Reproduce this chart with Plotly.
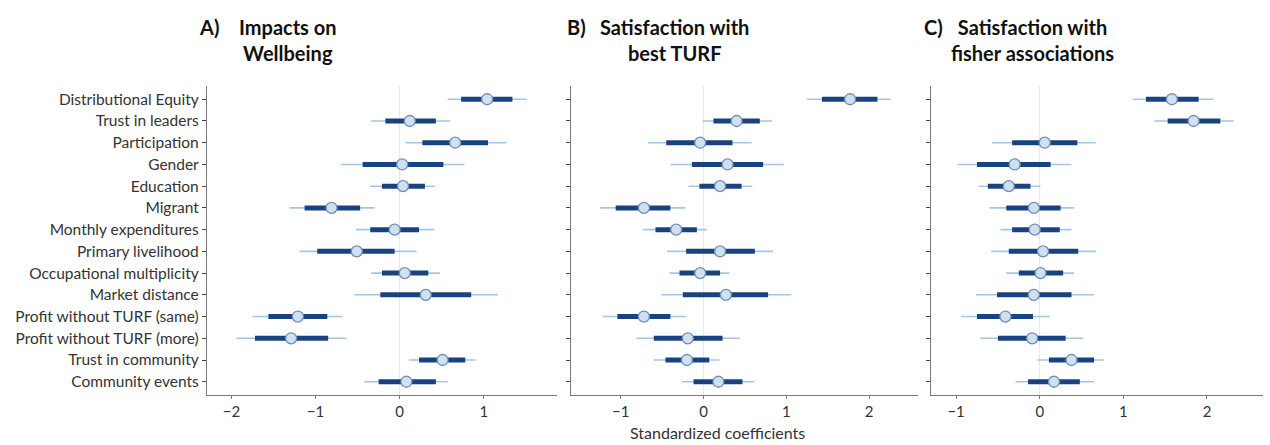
import plotly.graph_objects as go

categories = ["Distributional Equity", "Trust in leaders", "Participation", "Gender",
              "Education", "Migrant", "Monthly expenditures", "Primary livelihood",
              "Occupational multiplicity", "Market distance", "Profit without TURF (same)",
              "Profit without TURF (more)", "Trust in community", "Community events"]

# Panel A: Impacts on Wellbeing
a_est  = [1.04, 0.12, 0.66, 0.03, 0.04, -0.81, -0.06, -0.51, 0.06, 0.31, -1.21, -1.29, 0.51, 0.08]
a_lo50 = [0.73, -0.17, 0.27, -0.44, -0.21, -1.13, -0.35, -0.98, -0.21, -0.23, -1.56, -1.72, 0.23, -0.25]
a_hi50 = [1.34, 0.43, 1.05, 0.52, 0.30, -0.47, 0.23, -0.06, 0.34, 0.85, -0.86, -0.85, 0.78, 0.43]
a_lo95 = [0.57, -0.34, 0.07, -0.70, -0.35, -1.31, -0.52, -1.19, -0.34, -0.54, -1.75, -1.94, 0.11, -0.42]
a_hi95 = [1.51, 0.60, 1.27, 0.77, 0.42, -0.30, 0.41, 0.20, 0.48, 1.17, -0.68, -0.63, 0.90, 0.57]

# Panel B: Satisfaction with best TURF
b_est  = [1.77, 0.40, -0.04, 0.29, 0.20, -0.72, -0.33, 0.20, -0.04, 0.27, -0.72, -0.19, -0.20, 0.18]
b_lo50 = [1.43, 0.12, -0.45, -0.14, -0.05, -1.06, -0.58, -0.21, -0.29, -0.25, -1.04, -0.60, -0.46, -0.12]
b_hi50 = [2.10, 0.68, 0.35, 0.72, 0.46, -0.40, -0.08, 0.62, 0.20, 0.78, -0.40, 0.23, 0.07, 0.47]
b_lo95 = [1.25, -0.01, -0.67, -0.40, -0.18, -1.25, -0.73, -0.44, -0.41, -0.51, -1.22, -0.81, -0.60, -0.26]
b_hi95 = [2.26, 0.83, 0.58, 0.97, 0.59, -0.22, 0.04, 0.84, 0.31, 1.06, -0.21, 0.44, 0.19, 0.61]

# Panel C: Satisfaction with fisher associations
c_est  = [1.58, 1.84, 0.06, -0.30, -0.37, -0.07, -0.06, 0.04, 0.01, -0.07, -0.41, -0.09, 0.38, 0.17]
c_lo50 = [1.27, 1.53, -0.33, -0.75, -0.62, -0.40, -0.33, -0.37, -0.25, -0.51, -0.75, -0.50, 0.11, -0.14]
c_hi50 = [1.90, 2.16, 0.45, 0.13, -0.11, 0.25, 0.24, 0.46, 0.28, 0.38, -0.08, 0.31, 0.65, 0.48]
c_lo95 = [1.11, 1.37, -0.57, -0.98, -0.73, -0.60, -0.47, -0.58, -0.40, -0.76, -0.94, -0.71, -0.03, -0.29]
c_hi95 = [2.08, 2.32, 0.67, 0.38, 0.01, 0.41, 0.38, 0.67, 0.41, 0.65, 0.12, 0.52, 0.77, 0.65]

panel_letters = ["A)", "B)", "C)"]
panel_titles = ["Impacts on<br>Wellbeing", "Satisfaction with<br>best TURF", "Satisfaction with<br>fisher associations"]
x_tickvals = [[-2, -1, 0, 1], [-1, 0, 1, 2], [-1, 0, 1, 2]]
x_label = "Standardized coefficients"

panels = [
    (a_est, a_lo50, a_hi50, a_lo95, a_hi95),
    (b_est, b_lo50, b_hi50, b_lo95, b_hi95),
    (c_est, c_lo50, c_hi50, c_lo95, c_hi95),
]

W, H = 1270, 445
x_domains_px = [(207, 557), (571, 918), (931, 1263)]
x_ranges = [(-2.29, 1.87), (-1.60, 2.59), (-1.30, 2.67)]
y_top_px, y_bot_px = 86, 395
y_domain = [1 - y_bot_px / H, 1 - y_top_px / H]

THIN = "#a3c7e0"
THICK = "#1b4280"
FILL = "#cfe0ee"
EDGE = "#6f8fb5"
AXIS = "#7a7a7a"
FONT = "Lato"

fig = go.Figure()

for i, (est, lo50, hi50, lo95, hi95) in enumerate(panels):
    sfx = "" if i == 0 else str(i + 1)
    xa, ya = "x" + sfx, "y" + sfx
    thin_x, thin_y, thick_x, thick_y = [], [], [], []
    for k, cat in enumerate(categories):
        thin_x += [lo95[k], hi95[k], None]
        thin_y += [cat, cat, None]
        thick_x += [lo50[k], hi50[k], None]
        thick_y += [cat, cat, None]
    fig.add_trace(go.Scatter(x=thin_x, y=thin_y, mode="lines", xaxis=xa, yaxis=ya,
                             line=dict(color=THIN, width=1.6), showlegend=False, hoverinfo="skip"))
    fig.add_trace(go.Scatter(x=thick_x, y=thick_y, mode="lines", xaxis=xa, yaxis=ya,
                             line=dict(color=THICK, width=5), showlegend=False, hoverinfo="skip"))
    fig.add_trace(go.Scatter(x=est, y=categories, mode="markers", xaxis=xa, yaxis=ya,
                             marker=dict(size=11, color=FILL, line=dict(color=EDGE, width=1.3)),
                             showlegend=False))

    x0, x1 = x_domains_px[i]
    xkey = "xaxis" + sfx
    ykey = "yaxis" + sfx
    fig.layout[xkey] = dict(
        domain=[x0 / W, x1 / W], range=list(x_ranges[i]), anchor=ya,
        tickvals=x_tickvals[i],
        showgrid=False, zeroline=True, zerolinecolor="#e2e9ef", zerolinewidth=1,
        showline=True, linecolor=AXIS, linewidth=1.3,
        ticks="outside", ticklen=3, tickcolor=AXIS,
        tickfont=dict(family=FONT, size=15, color="#333333"), fixedrange=True,
    )
    fig.layout[ykey] = dict(
        domain=y_domain, anchor=xa, type="category",
        categoryorder="array", categoryarray=categories,
        range=[13.61, -0.61],
        showgrid=False, zeroline=False,
        showline=True, linecolor=AXIS, linewidth=1.3,
        ticks="outside", ticklen=4, tickcolor="#444444",
        showticklabels=(i == 0),
        tickfont=dict(family=FONT, size=15.5, color="#333333"), fixedrange=True,
    )

    # panel titles
    letter_x = [197, 565, 922][i]
    title_cx = [288, 674, 1032][i]
    fig.add_annotation(text="<b>%s</b>" % panel_letters[i], xref="paper", yref="paper",
                       x=letter_x / W, y=1 - 13 / H, xanchor="left", yanchor="top",
                       showarrow=False, font=dict(family=FONT, size=20, color="#111111"))
    fig.add_annotation(text="<b>%s</b>" % panel_titles[i], xref="paper", yref="paper",
                       x=title_cx / W, y=1 - 13 / H, xanchor="center", yanchor="top", align="center",
                       showarrow=False, font=dict(family=FONT, size=20, color="#111111"))

fig.add_annotation(text=x_label, xref="paper", yref="paper", x=718 / W, y=1 - 432 / H,
                   xanchor="center", yanchor="middle", showarrow=False,
                   font=dict(family=FONT, size=16, color="#333333"))

fig.update_layout(width=W, height=H, margin=dict(l=0, r=0, t=0, b=0),
                  paper_bgcolor="white", plot_bgcolor="white", showlegend=False)

fig.write_html("out.html")
